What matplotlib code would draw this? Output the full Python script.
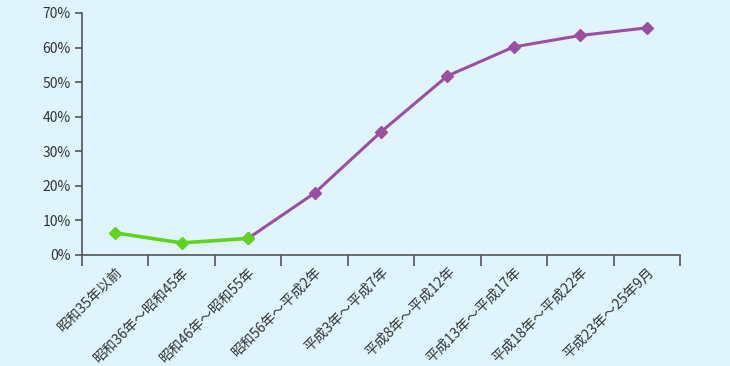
import matplotlib
matplotlib.use("Agg")
import matplotlib.pyplot as plt
import numpy as np

plt.rcParams['font.family'] = ['Noto Sans CJK JP', 'DejaVu Sans']

periods = ["昭和35年以前", "昭和36年～昭和45年", "昭和46年～昭和55年",
           "昭和56年～平成2年", "平成3年～平成7年", "平成8年～平成12年",
           "平成13年～平成17年", "平成18年～平成22年", "平成23年～25年9月"]
rates = [6.4, 3.5, 4.8, 17.9, 35.6, 51.8, 60.2, 63.5, 65.7]

bg = "#e0f4fd"
green = "#5fd41c"
purple = "#9b4ea4"
axis_col = "#555555"

fig = plt.figure(figsize=(7.3, 3.66), dpi=100, facecolor=bg)
ax = fig.add_axes([0.1123, 0.3033, 0.8192, 0.6612], facecolor=bg)

x = np.arange(len(periods))
ax.plot(x[2:], rates[2:], color=purple, lw=2.2, marker="D", ms=6, zorder=2)
ax.plot(x[:3], rates[:3], color=green, lw=2.6, marker="D", ms=6.5, zorder=3)

ax.set_xlim(-0.5, len(periods) - 0.5)
ax.set_ylim(0, 70)
ax.set_yticks(range(0, 71, 10))
ax.set_yticklabels([f"{v}%" for v in range(0, 71, 10)], fontsize=10, color="#333333")

ax.set_xticks(x)
ax.set_xticklabels(periods, rotation=45, ha="right", rotation_mode="anchor",
                   fontsize=10, color="#333333")
ax.tick_params(axis="x", which="major", length=0, pad=7)
ax.set_xticks(np.arange(-0.5, len(periods)), minor=True)
ax.tick_params(axis="x", which="minor", length=8, color=axis_col, width=1.2)
ax.tick_params(axis="y", length=5, color=axis_col, width=1.2, pad=3)

for s in ["top", "right"]:
    ax.spines[s].set_visible(False)
for s in ["left", "bottom"]:
    ax.spines[s].set_color(axis_col)
    ax.spines[s].set_linewidth(1.2)

fig.savefig("out.png", dpi=100, facecolor=bg)
